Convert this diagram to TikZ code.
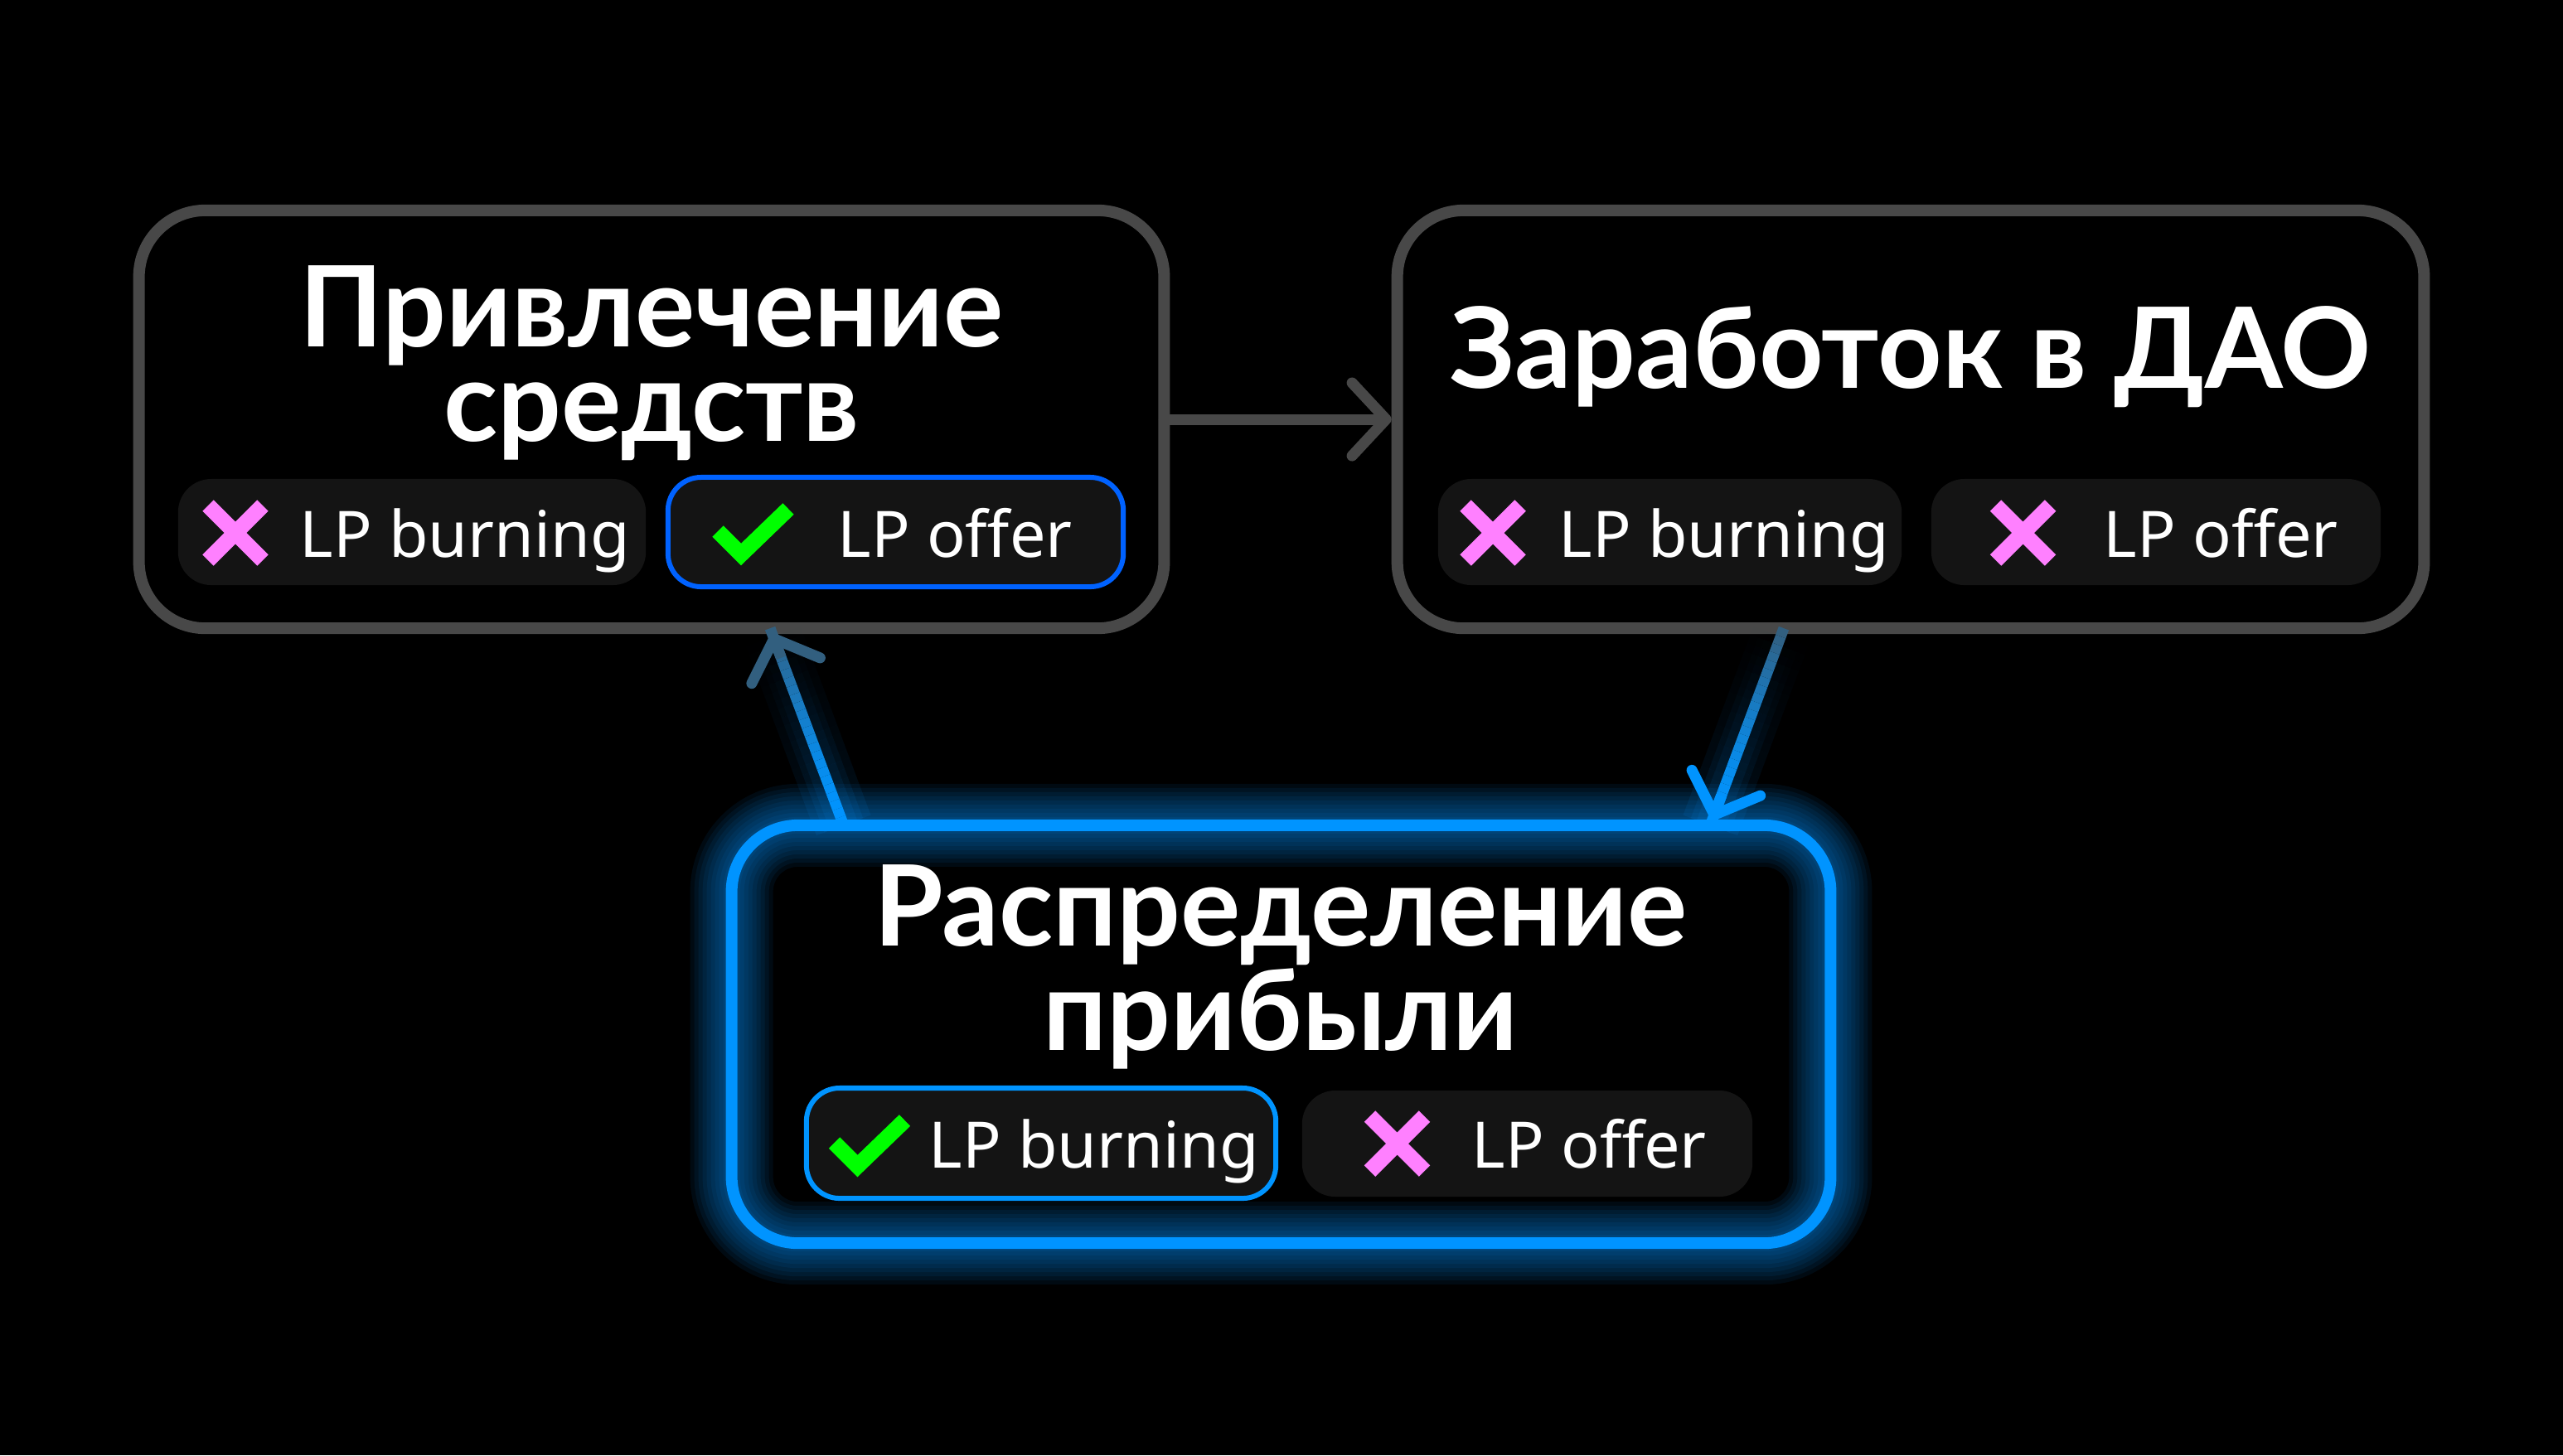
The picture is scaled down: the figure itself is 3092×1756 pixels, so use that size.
\documentclass[tikz,border=0pt]{standalone}
\usepackage{fontspec}
\setmainfont{Noto Sans}
\newfontfamily\titlefont{Lato}
\usetikzlibrary{arrows.meta,calc}

\definecolor{edgegray}{HTML}{484848}
\definecolor{glowblue}{HTML}{0094FF}
\definecolor{offerblue}{HTML}{0062FF}
\definecolor{pillgray}{HTML}{141414}
\definecolor{crosspink}{HTML}{FF80FF}
\definecolor{tickgreen}{HTML}{00FF00}

\tikzset{
  stagebox/.style={draw=edgegray, fill=black, line width=0.14cm, rounded corners=0.8cm,
    minimum height=5.04cm, inner sep=0pt, outer sep=0pt},
  stagetitle/.style={text=white, align=center, inner sep=0pt,
    font=\titlefont\bfseries\fontsize{38.5}{32.5}\selectfont},
  pillbox/.style={fill=pillgray, rounded corners=0.4cm, minimum height=1.28cm,
    inner sep=0pt, outer sep=0pt},
  pilltext/.style={text=white, anchor=base west, inner sep=0pt,
    font=\fontsize{22}{26}\selectfont},
  flowtip/.style={-{Straight Barb[length=0.41cm, width=0.88cm, round]}, shorten >=0.07cm},
  crossmark/.pic={\draw[crosspink, line width=0.19cm, line cap=butt]
    (-33,-33) -- (33,33) (-33,33) -- (33,-33);},
  tickmark/.pic={\draw[tickgreen, line width=0.19cm, line cap=butt, line join=miter]
    (-42,-4) -- (-14,24) -- (43,-31);},
}

\begin{document}
\begin{tikzpicture}
% canvas in pixels of the 3092 x 1756 sheet, y running down
\def\pxsz{0.01cm}
\providecommand{\flowLineWidth}{0.13cm}
\providecommand{\flowSteps}{24}
\begin{scope}[x=\pxsz, y=-\pxsz, line join=round]
  % Background
  \fill[black] (0,0) rectangle (3092,1756);
  % Stage frames
  \node[stagebox, minimum width=12.36cm] (raise) at (786,506) {};
  \node[stagebox, minimum width=12.38cm] (earn) at (2305,506) {};
  \node[stagebox, draw=glowblue, minimum width=13.25cm] (share) at (1545.5,1248) {};
  % Glow round the active frame
  \foreach \w in {0.2,0.3,...,1.1} {
    \draw[glowblue, line width=\w cm, draw opacity=0.07, rounded corners=0.8cm]
      (share.south west) rectangle (share.north east);
  }
  % Titles
  \node[stagetitle] (raisetitle) at (786,438) {Привлечение\\средств};
  \node[stagetitle, anchor=base] (earntitle) at (2305,468) {Заработок в ДАО};
  \node[stagetitle] (sharetitle) at (1545,1167) {Распределение\\прибыли};
  % Option pills
  \node[pillbox, minimum width=5.64cm] (raiseburn) at (497,642) {};
  \node[pillbox, draw=offerblue, line width=0.06cm, minimum width=5.49cm,
    minimum height=1.32cm] (raiseoffer) at (1080.5,642) {};
  \node[pillbox, minimum width=5.59cm] (earnburn) at (2014.5,642) {};
  \node[pillbox, minimum width=5.42cm] (earnoffer) at (2601,642) {};
  \node[pillbox, draw=glowblue, line width=0.06cm, minimum width=5.66cm,
    minimum height=1.33cm] (shareburn) at (1256,1379.5) {};
  \node[pillbox, minimum width=5.43cm] (shareoffer) at (1842.5,1380) {};
  % Pill labels
  \node[pilltext] (raiseburntext) at (361,672) {LP burning};
  \node[pilltext] (raiseoffertext) at (1010,672) {LP offer};
  \node[pilltext] (earnburntext) at (1880,672) {LP burning};
  \node[pilltext] (earnoffertext) at (2537,672) {LP offer};
  \node[pilltext] (shareburntext) at (1120,1409) {LP burning};
  \node[pilltext] (shareoffertext) at (1775,1409) {LP offer};
  % Marks
  \pic at (284,643) {crossmark};
  \pic at (908,645) {tickmark};
  \pic at (1801,643) {crossmark};
  \pic at (2440.5,643) {crossmark};
  \pic at (1048.5,1383) {tickmark};
  \pic at (1685.5,1380) {crossmark};
  % Flow arrows
  \draw[draw=edgegray, line width=\flowLineWidth, line cap=round, flowtip]
    (raise.east) -- (earn.west);
  \coordinate (downstart) at ([xshift=-1.53cm]earn.south);
  \coordinate (downend) at ([xshift=5.175cm]share.north);
  \coordinate (upstart) at ([xshift=-5.275cm]share.north);
  \coordinate (upend) at ([xshift=1.43cm]raise.south);
  \foreach \i in {0,...,23} {
    \pgfmathsetmacro\blueshare{100-70*(\i/23)^1.5}
    \pgfmathsetmacro\glowop{0.09*(1-\i/23)}
    % up: blue at the bottom frame, grey at the top
    \foreach \g in {0.7,0.5,0.35} {
      \draw[glowblue, line width=\g cm, draw opacity=\glowop]
        ($(upstart)!\i/\flowSteps!(upend)$) -- ($(upstart)!\i/\flowSteps+1/\flowSteps!(upend)$);
      \draw[glowblue, line width=\g cm, draw opacity=\glowop]
        ($(downend)!\i/\flowSteps!(downstart)$) -- ($(downend)!\i/\flowSteps+1/\flowSteps!(downstart)$);
    }
    \draw[glowblue!\blueshare!edgegray, line width=\flowLineWidth]
      ($(upstart)!\i/\flowSteps!(upend)$) -- ($(upstart)!\i/\flowSteps+1/\flowSteps!(upend)$);
    % down: grey at the top frame, blue at the bottom
    \draw[glowblue!\blueshare!edgegray, line width=\flowLineWidth]
      ($(downend)!\i/\flowSteps!(downstart)$) -- ($(downend)!\i/\flowSteps+1/\flowSteps!(downstart)$);
  }
  \draw[glowblue!30!edgegray, line width=\flowLineWidth, flowtip]
    ($(upstart)!0.85!(upend)$) -- (upend);
  \draw[glowblue, line width=\flowLineWidth, flowtip]
    ($(downstart)!0.85!(downend)$) -- (downend);
\end{scope}
\end{tikzpicture}
\end{document}
